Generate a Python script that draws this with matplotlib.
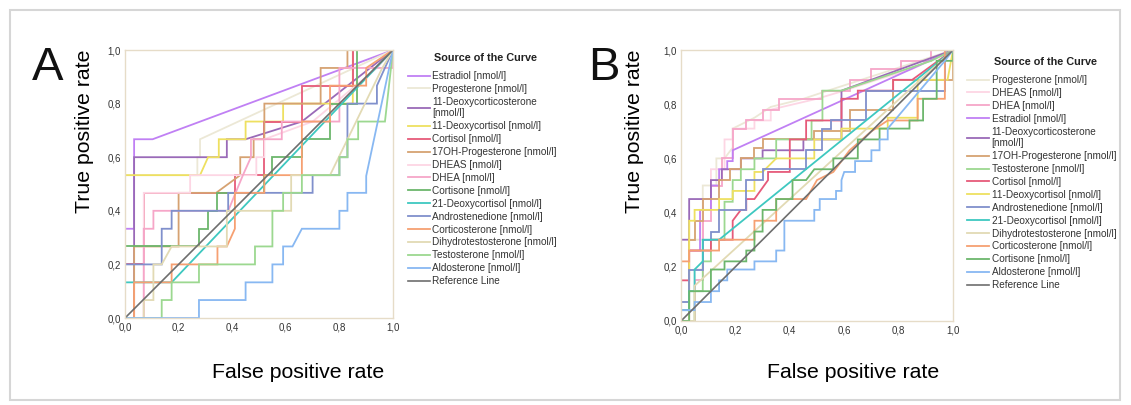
import matplotlib
matplotlib.use("Agg")
import matplotlib.pyplot as plt
from matplotlib.patches import Rectangle

plt.rcParams['font.family'] = ['Liberation Sans', 'DejaVu Sans']

# colours per analyte (SPSS style palette)
colors = {
    'Estradiol': '#c080f4',
    'Progesterone': '#ece8d6',
    '11-Deoxycorticosterone': '#9a6ab8',
    '11-Deoxycortisol': '#eee060',
    'Cortisol': '#e65a7a',
    '17OH-Progesterone': '#d6a272',
    'DHEAS': '#fdd6e4',
    'DHEA': '#f6a6c8',
    'Cortisone': '#6cb66c',
    '21-Deoxycortisol': '#3ec8c0',
    'Androstenedione': '#8090cc',
    'Corticosterone': '#f6a072',
    'Dihydrotestosterone': '#e2dab4',
    'Testosterone': '#9cd890',
    'Aldosterone': '#88b8f2',
}

# ---- panel A curves (fpr, tpr vertices) ----
a_estradiol = [(0, 0), (0, .333), (.034, .333), (.034, .667), (.103, .667), (1, 1)]
a_progesterone = [(0, 0), (0, .533), (.27, .533), (.27, .6), (.28, .6), (.28, .667), (1, 1)]
a_deoxycorticosterone = [(0, 0), (.034, 0), (.034, .6), (.38, .6), (.38, .667), (.45, .667),
                         (.66, .733), (1, 1)]
a_deoxycortisol = [(0, 0), (0, .533), (.28, .533), (.31, .6), (.35, .6), (.35, .667), (.45, .667),
                   (.45, .733), (.59, .733), (.59, .8), (.85, .8), (.85, 1), (1, 1)]
a_cortisol = [(0, 0), (0, .2), (.07, .2), (.07, .467), (.41, .467), (.41, .533), (.52, .533),
              (.52, .6), (.52, .733), (.66, .733), (.66, .867), (.85, .867), (.85, 1), (1, 1)]
a_ohp = [(0, 0), (.034, 0), (.034, .267), (.2, .267), (.2, .467), (.34, .467), (.43, .533),
         (.43, .6), (.48, .6), (.48, .667), (.52, .667), (.52, .8), (.73, .8), (.73, .933),
         (.83, .933), (.83, 1), (1, 1)]
a_dheas = [(0, 0), (.07, 0), (.07, .467), (.243, .467), (.243, .533), (.49, .533), (.49, .6),
           (.52, .6), (.52, .667), (.7, .733), (.94, .933), (1, 1)]
a_dhea = [(0, 0), (.07, 0), (.07, .333), (.106, .333), (.106, .4), (.385, .4), (.44, .533),
          (.47, .6), (.47, .667), (.585, .667), (.585, .733), (.8, .733), (.8, .933), (1, .933), (1, 1)]
a_cortisone = [(0, 0), (0, .267), (.276, .267), (.276, .333), (.31, .333), (.31, .4), (.345, .4),
               (.345, .467), (.52, .467), (.52, .533), (.55, .533), (.55, .6), (.66, .6), (.66, .667),
               (.765, .667), (.765, .8), (.865, .8), (.865, 1), (1, 1)]
a_deoxycortisol21 = [(0, 0), (0, .133), (.174, .133), (1, 1)]
a_androstenedione = [(0, 0), (0, .2), (.137, .2), (.137, .333), (.174, .333), (.174, .4), (.385, .4),
                     (.385, .467), (.7, .467), (.7, .533), (.8, .533), (.8, .6), (.83, .6), (.83, .8),
                     (.94, .8), (.94, .867), (1, 1)]
a_corticosterone = [(0, 0), (.034, 0), (.034, .133), (.174, .133), (.174, .2), (.345, .2),
                    (.345, .267), (.38, .267), (.41, .333), (.41, .467), (.52, .467), (.52, .533),
                    (.66, .533), (.66, .733), (.765, .733), (.765, .867), (.9, .867), (.9, .933), (1, 1)]
a_dht = [(0, 0), (.07, 0), (.07, .067), (.106, .067), (.106, .2), (.137, .2), (.174, .267),
         (.38, .267), (.38, .4), (.62, .4), (.62, .533), (.765, .533), (.96, .933), (1, 1)]
a_testosterone = [(0, 0), (.137, 0), (.137, .067), (.174, .067), (.174, .133), (.276, .133),
                  (.276, .2), (.485, .2), (.485, .267), (.55, .267), (.55, .4), (.59, .4), (.59, .467),
                  (.66, .467), (.66, .533), (.8, .533), (.8, .6), (.83, .6), (.83, .667), (.87, .667),
                  (.87, .733), (.97, .733), (1, 1)]
a_aldosterone = [(0, 0), (.276, 0), (.276, .067), (.45, .067), (.45, .133), (.55, .133), (.55, .2),
                 (.59, .2), (.59, .267), (.625, .267), (.66, .333), (.8, .333), (.8, .4), (.83, .4),
                 (.83, .467), (.9, .467), (.9, .53), (1, 1)]

# ---- panel B curves ----
b_progesterone = [(0, 0), (0, .07), (.03, .07), (.03, .3), (.08, .3), (.08, .5), (.13, .5), (.13, .6),
                  (.16, .6), (.19, .64), (.19, .71), (.27, .75), (.33, .79), (.45, .82), (.54, .85), (1, 1)]
b_dheas = [(0, 0), (.05, 0), (.05, .19), (.08, .19), (.08, .41), (.11, .41), (.11, .56), (.16, .56),
           (.16, .67), (.19, .67), (.19, .71), (.27, .71), (.27, .74), (.33, .74), (.33, .78),
           (.5, .82), (.6, .85), (.72, .89), (.85, .93), (1, 1)]
b_dhea = [(0, 0), (.05, 0), (.05, .15), (.08, .15), (.08, .37), (.11, .37), (.11, .5), (.15, .5),
          (.15, .6), (.19, .6), (.19, .71), (.24, .71), (.24, .74), (.3, .74), (.3, .78), (.36, .78),
          (.36, .82), (.52, .82), (.52, .85), (.62, .85), (.62, .89), (.7, .89), (.7, .93), (.81, .93),
          (.81, .96), (.92, .96), (.92, 1), (1, 1)]
b_estradiol = [(0, 0), (.03, 0), (.03, .26), (.07, .26), (.07, .41), (.11, .41), (.11, .5), (.14, .5),
               (.14, .56), (.17, .56), (.17, .59), (.19, .59), (.19, .63), (1, 1)]
b_deoxycorticosterone = [(0, 0), (0, .3), (.03, .3), (.03, .45), (.11, .45), (.11, .52), (.15, .52),
                         (.15, .56), (.22, .56), (.22, .6), (.3, .6), (.3, .63), (.45, .63), (.45, .67),
                         (.59, .67), (.59, .85), (1, 1)]
b_ohp = [(0, 0), (0, .04), (.03, .04), (.03, .3), (.05, .3), (.05, .37), (.08, .37), (.08, .45),
         (.14, .45), (.14, .52), (.18, .52), (.18, .56), (.22, .56), (.22, .6), (.27, .6), (.27, .64),
         (.3, .64), (.3, .67), (.49, .67), (.49, .7), (.62, .7), (.62, .78), (.78, .78), (.78, .89),
         (1, .89), (1, 1)]
b_testosterone = [(0, 0), (.05, 0), (.05, .11), (.08, .11), (.08, .22), (.11, .22), (.11, .3),
                  (.16, .3), (.16, .44), (.19, .44), (.19, .52), (.22, .52), (.22, .56), (.27, .56),
                  (.27, .6), (.35, .6), (.35, .67), (.48, .67), (.48, .74), (.52, .74), (.52, .85),
                  (.59, .85), (.92, .96), (1, 1)]
b_cortisol = [(0, 0), (0, .15), (.03, .15), (.03, .26), (.11, .26), (.11, .3), (.19, .3), (.19, .37),
              (.22, .41), (.24, .41), (.24, .45), (.27, .45), (.32, .52), (.32, .55), (.4, .55),
              (.4, .67), (.46, .67), (.46, .74), (.59, .74), (.59, .82), (.65, .82), (.65, .85),
              (.78, .85), (.78, .89), (.85, .89), (1, 1)]
b_deoxycortisol = [(0, 0), (.03, 0), (.03, .37), (.05, .37), (.05, .41), (.14, .41), (.14, .45),
                   (.19, .45), (.19, .48), (.27, .48), (.27, .55), (.3, .55), (.35, .6), (.49, .6),
                   (.49, .67), (.59, .67), (.59, .71), (.76, .71), (.76, .75), (.87, .75), (.87, .89),
                   (.98, .89), (1, 1)]
b_androstenedione = [(0, 0), (0, .07), (.03, .07), (.03, .19), (.08, .19), (.08, .3), (.11, .3),
                     (.11, .33), (.14, .33), (.14, .41), (.24, .41), (.24, .52), (.3, .52), (.3, .56),
                     (.46, .56), (.46, .63), (.52, .63), (.52, .71), (.55, .71), (.55, .74), (.68, .74),
                     (.68, .85), (.97, .85), (.97, 1), (1, 1)]
b_deoxycortisol21 = [(0, 0), (0, .04), (.03, .04), (.03, .11), (.05, .11), (.05, .19), (.08, .22),
                     (.08, .3), (.14, .3), (1, 1)]
b_dht = [(0, 0), (.05, 0), (.05, .13), (1, 1)]
b_corticosterone = [(0, 0), (0, .22), (.03, .22), (.03, .26), (.14, .26), (.14, .3), (.27, .3),
                    (.27, .37), (.35, .37), (.35, .45), (.46, .45), (.5, .52), (.56, .55), (.62, .63),
                    (.7, .7), (.76, .74), (.87, .74), (.87, .82), (.97, .82), (.97, 1), (1, 1)]
b_cortisone = [(0, 0), (.03, 0), (.03, .11), (.11, .11), (.11, .19), (.16, .19), (.16, .22),
               (.24, .22), (.24, .26), (.27, .26), (.27, .33), (.3, .33), (.3, .41), (.35, .41),
               (.35, .45), (.41, .45), (.41, .52), (.46, .52), (.49, .56), (.56, .56), (.56, .6),
               (.65, .6), (.65, .67), (.73, .67), (.73, .71), (.84, .71), (.84, .74), (.89, .74),
               (.89, .82), (.94, .82), (.94, .96), (1, .96), (1, 1)]
b_aldosterone = [(0, 0), (0, .04), (.05, .04), (.05, .07), (.11, .07), (.11, .11), (.14, .11),
                 (.14, .15), (.17, .15), (.17, .19), (.27, .19), (.27, .22), (.35, .22), (.35, .26),
                 (.38, .26), (.38, .37), (.49, .37), (.49, .41), (.51, .41), (.51, .45), (.57, .45),
                 (.57, .48), (.59, .48), (.59, .52), (.6, .55), (.64, .55), (.64, .59), (.7, .59),
                 (.7, .63), (.73, .63), (.73, .67), (.76, .67), (.76, .71), (.97, .96), (1, 1)]

# legend order = drawing order
panel_a = [
    ('Estradiol', a_estradiol), ('Progesterone', a_progesterone),
    ('11-Deoxycorticosterone', a_deoxycorticosterone), ('11-Deoxycortisol', a_deoxycortisol),
    ('Cortisol', a_cortisol), ('17OH-Progesterone', a_ohp), ('DHEAS', a_dheas), ('DHEA', a_dhea),
    ('Cortisone', a_cortisone), ('21-Deoxycortisol', a_deoxycortisol21),
    ('Androstenedione', a_androstenedione), ('Corticosterone', a_corticosterone),
    ('Dihydrotestosterone', a_dht), ('Testosterone', a_testosterone), ('Aldosterone', a_aldosterone),
]
panel_b = [
    ('Progesterone', b_progesterone), ('DHEAS', b_dheas), ('DHEA', b_dhea), ('Estradiol', b_estradiol),
    ('11-Deoxycorticosterone', b_deoxycorticosterone), ('17OH-Progesterone', b_ohp),
    ('Testosterone', b_testosterone), ('Cortisol', b_cortisol), ('11-Deoxycortisol', b_deoxycortisol),
    ('Androstenedione', b_androstenedione), ('21-Deoxycortisol', b_deoxycortisol21),
    ('Dihydrotestosterone', b_dht), ('Corticosterone', b_corticosterone), ('Cortisone', b_cortisone),
    ('Aldosterone', b_aldosterone),
]
ticks = [0, 0.2, 0.4, 0.6, 0.8, 1.0]
tick_labels = ['0,0', '0,2', '0,4', '0,6', '0,8', '1,0']

W, H = 1131, 405


def draw_panel(ax, curves):
    for name, pts in curves:
        xs, ys = zip(*pts)
        label = name + ' [nmol/l]'
        if name == '11-Deoxycorticosterone':
            label = name + '\n[nmol/l]'
        ax.plot(xs, ys, color=colors[name], lw=1.3, label=label, solid_joinstyle='miter')
    ax.plot([0, 1], [0, 1], color='#6e6e6e', lw=1.2, label='Reference Line')
    ax.set_xlim(0, 1)
    ax.set_ylim(0, 1)
    ax.set_xticks(ticks)
    ax.set_xticklabels(tick_labels)
    ax.set_yticks(ticks)
    ax.set_yticklabels(tick_labels)
    ax.tick_params(length=0, labelsize=7, colors='#333333', pad=3)
    for s in ax.spines.values():
        s.set_color('#e6dcc8')
        s.set_linewidth(1.0)


fig = plt.figure(figsize=(W / 100, H / 100), dpi=100)
fig.patches.append(Rectangle((10 / W, 5 / H), 1110 / W, 390 / H, transform=fig.transFigure,
                             fill=False, edgecolor='#d6d6d6', lw=1.5))

ax_a = fig.add_axes([125 / W, 1 - 318 / H, 268 / W, 268 / H])
ax_b = fig.add_axes([681 / W, 1 - 321 / H, 272 / W, 271 / H])
draw_panel(ax_a, panel_a)
draw_panel(ax_b, panel_b)

# legends: title as separate text, entries via ax.legend
for ax, hx, top, tx, ty in ((ax_a, 408, 71, 485, 58), (ax_b, 967, 75, 1045, 62)):
    leg = ax.legend(loc='upper left', bbox_to_anchor=(hx / W, 1 - top / H),
                    bbox_transform=fig.transFigure, frameon=False, fontsize=7.2,
                    handlelength=2.2, handletextpad=0.25, labelspacing=0.29, borderpad=0,
                    borderaxespad=0)
    for t in leg.get_texts():
        t.set_color('#333333')
    fig.text(tx / W, 1 - ty / H, 'Source of the Curve', fontsize=7.8, fontweight='bold',
             ha='center', va='center', color='#222222')

fig.text(48 / W, 1 - 68 / H, 'A', fontsize=34, ha='center', va='center', color='#111111')
fig.text(604 / W, 1 - 68 / H, 'B', fontsize=34, ha='center', va='center', color='#111111')
fig.text(298 / W, 1 - 372 / H, 'False positive rate', fontsize=15.3, ha='center', va='center')
fig.text(853 / W, 1 - 372 / H, 'False positive rate', fontsize=15.3, ha='center', va='center')
fig.text(84 / W, 1 - 131 / H, 'True positive rate', fontsize=15.3, ha='center', va='center',
         rotation=90)
fig.text(634 / W, 1 - 131 / H, 'True positive rate', fontsize=15.3, ha='center', va='center',
         rotation=90)

fig.savefig('out.png', dpi=100)
